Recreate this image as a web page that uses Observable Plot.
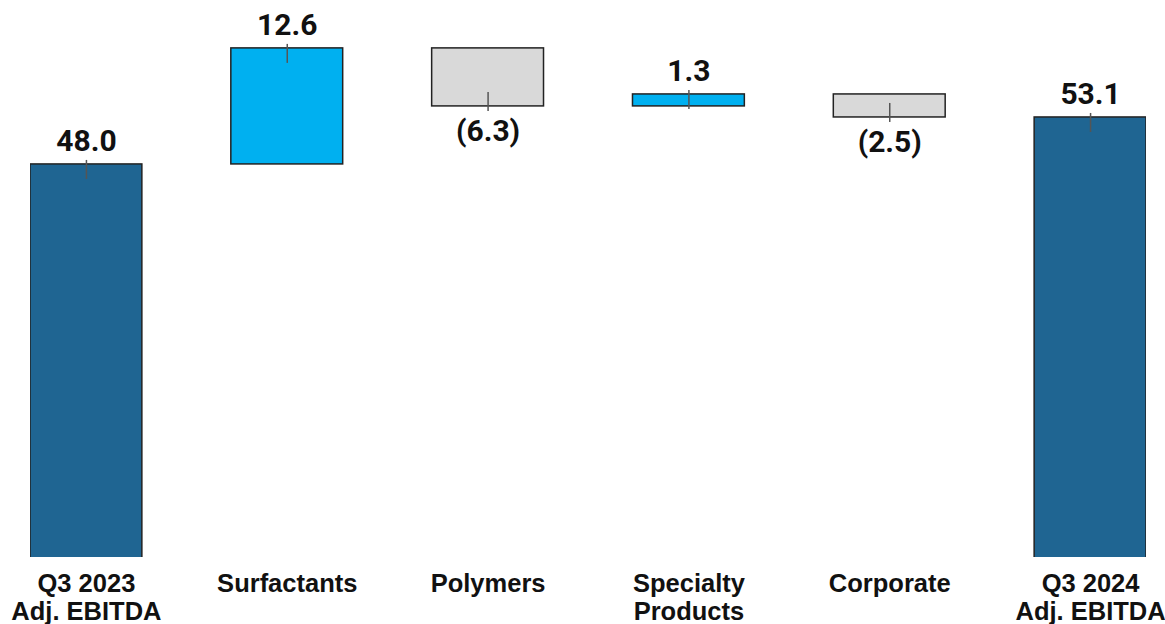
<!DOCTYPE html>
<html>
<head>
<meta charset="utf-8">
<script src="https://cdn.jsdelivr.net/npm/d3@7"></script>
<script src="https://cdn.jsdelivr.net/npm/@observablehq/plot@0.6"></script>
<style>
  html, body { margin: 0; padding: 0; background: #fff; }
  #chart svg { display: block; }
</style>
</head>
<body>
<div id="chart"></div>
<script>
// Adjusted EBITDA bridge, Q3 2023 → Q3 2024 ($ millions)
const categories = [
  "Q3 2023\nAdj. EBITDA",
  "Surfactants",
  "Polymers",
  "Specialty\nProducts",
  "Corporate",
  "Q3 2024\nAdj. EBITDA"
];
const values = [48.0, 12.6, -6.3, 1.3, -2.5, 53.1];
const kinds = ["total", "delta", "delta", "delta", "delta", "total"];

const palette = {
  total: "#1f6592",
  up: "#00b0f0",
  down: "#d9d9d9"
};

// Build the waterfall steps: totals stand on zero, deltas float on the running sum
let running = 0;
const steps = categories.map((cat, i) => {
  const v = values[i];
  let start, end;
  if (kinds[i] === "total") {
    start = 0;
    end = v;
    running = v;
  } else {
    start = running;
    end = running + v;
    running = end;
  }
  const dir = kinds[i] === "total" ? "total" : v >= 0 ? "up" : "down";
  const label = v < 0 ? `(${Math.abs(v).toFixed(1)})` : v.toFixed(1);
  return {cat, value: v, start, end, dir, label, color: palette[dir]};
});

const rising = steps.filter(d => d.dir !== "down");
const falling = steps.filter(d => d.dir === "down");

const chart = Plot.plot({
  width: 1165,
  height: 624,
  marginTop: 0,
  marginLeft: 30,
  marginRight: 19,
  marginBottom: 67,
  style: {background: "#fff", color: "#111"},
  x: {domain: categories, paddingInner: 0.443, paddingOuter: 0, round: false, label: null},
  y: {domain: [0, 65.8], range: [606, 0], axis: null},
  color: {type: "identity"},
  marks: [
    Plot.barY(steps, {
      x: "cat", y1: "start", y2: "end",
      fill: "color", stroke: "#222", strokeWidth: 1.5, clip: true
    }),
    // short leader crossing the moving end of each bar
    Plot.ruleX(rising, {
      x: "cat", y1: "end", y2: "end",
      insetTop: 15, insetBottom: 4, stroke: "#555", strokeWidth: 1.5
    }),
    Plot.ruleX(falling, {
      x: "cat", y1: "end", y2: "end",
      insetTop: 5, insetBottom: 14, stroke: "#555", strokeWidth: 1.5
    }),
    Plot.text(rising, {
      x: "cat", y: "end", text: "label", lineAnchor: "bottom", dy: -13,
      fontFamily: "Roboto", fontWeight: "bold", fontSize: 30, fill: "#111"
    }),
    Plot.text(falling, {
      x: "cat", y: "end", text: "label", lineAnchor: "top", dy: 13,
      fontFamily: "Roboto", fontWeight: "bold", fontSize: 30, fill: "#111"
    }),
    Plot.axisX({
      tickSize: 0, tickPadding: 15, label: null,
      fontFamily: "Liberation Sans", fontWeight: "bold", fontSize: 25.5,
      lineHeight: 1.1, fill: "#111"
    })
  ]
});

document.getElementById("chart").appendChild(chart);
</script>
</body>
</html>
